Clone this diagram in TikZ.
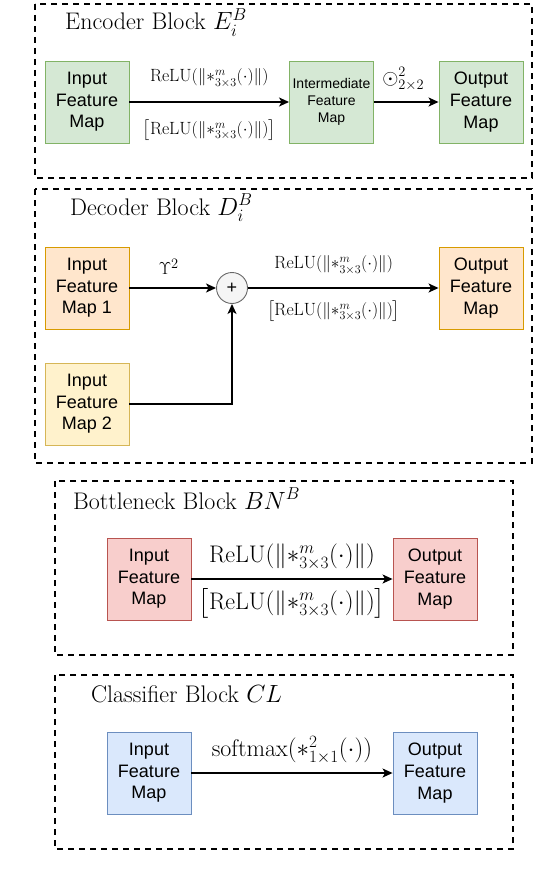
\documentclass[tikz,border=0pt]{standalone}
\usepackage{fontspec}
\usepackage{amsmath}
\usetikzlibrary{arrows.meta}
\newfontfamily\boxfont{Liberation Sans}

\definecolor{encfill}{HTML}{D5E8D4}
\definecolor{encline}{HTML}{82B366}
\definecolor{decfill}{HTML}{FFE6CC}
\definecolor{decline}{HTML}{D79B00}
\definecolor{skipfill}{HTML}{FFF2CC}
\definecolor{skipline}{HTML}{D6B656}
\definecolor{bnfill}{HTML}{F8CECC}
\definecolor{bnline}{HTML}{B85450}
\definecolor{clfill}{HTML}{DAE8FC}
\definecolor{clline}{HTML}{6C8EBF}
\definecolor{sumfill}{HTML}{F5F5F5}
\definecolor{sumline}{HTML}{666666}

\newcommand{\convop}{\mathrm{ReLU}(\|{*}^{m}_{3\times 3}(\cdot)\|)}

\begin{document}
\begin{tikzpicture}[
    x=1pt, y=-1pt,
    fmap/.style={draw, line width=0.9pt, minimum width=84pt, minimum height=82pt,
        align=center, inner sep=1pt, font=\boxfont\fontsize{18}{21.6}\selectfont},
    frame/.style={draw, line width=1.3pt, dash pattern=on 6pt off 5pt},
    title/.style={anchor=base west, inner sep=0pt, font=\fontsize{24}{28}\selectfont},
    small/.style={font=\fontsize{17.7}{21}\selectfont, inner sep=0pt},
    big/.style={font=\fontsize{24}{28}\selectfont, inner sep=0pt},
    flow/.style={line width=1.4pt, -{Stealth[length=10pt, width=9pt, inset=2.5pt]}}
]
\useasboundingbox (0,0) rectangle (540,880);

% encoder block
\draw[frame] (35,4) rectangle (532,178);
\node[title] (enctitle) at (65,30) {Encoder Block $E_i^B$};
\node[fmap, fill=encfill, draw=encline] (encin) at (87,102) {Input\\Feature\\Map};
\node[fmap, fill=encfill, draw=encline, font=\boxfont\fontsize{14}{16.8}\selectfont] (encmid) at (331.5,102) {Intermediate\\Feature\\Map};
\node[fmap, fill=encfill, draw=encline] (encout) at (481,102) {Output\\Feature\\Map};
\draw[flow] (encin) -- node[small, yshift=24pt] {$\convop$}
    node[small, yshift=-28pt] {$\bigl[\convop\bigr]$} (encmid);
\draw[flow] (encmid) -- node[font=\fontsize{22}{26}\selectfont, inner sep=0pt, yshift=23pt, xshift=-3pt] {$\odot^{2}_{2\times 2}$} (encout);

% decoder block
\draw[frame] (35,189) rectangle (532,463);
\node[title] (dectitle) at (70,215) {Decoder Block $D_i^B$};
\node[fmap, fill=decfill, draw=decline] (decin) at (87,288) {Input\\Feature\\Map 1};
\node[fmap, fill=skipfill, draw=skipline] (skipin) at (87,404) {Input\\Feature\\Map 2};
\node[circle, draw=sumline, fill=sumfill, line width=0.9pt, minimum size=31pt, inner sep=0pt,
    font=\boxfont\fontsize{18}{18}\selectfont] (sum) at (232,288) {+};
\node[fmap, fill=decfill, draw=decline] (decout) at (481,288) {Output\\Feature\\Map};
\draw[flow] (decin) -- node[font=\fontsize{19}{23}\selectfont, inner sep=0pt, yshift=21pt, xshift=-4pt] {$\Upsilon^{2}$} (sum);
\draw[flow] (skipin) -| (sum);
\draw[flow] (sum) -- node[small, pos=0.45, yshift=23pt] {$\convop$}
    node[small, pos=0.45, yshift=-23pt] {$\bigl[\convop\bigr]$} (decout);

% bottleneck block
\draw[frame] (55,481) rectangle (513,655);
\node[title] (bntitle) at (73,509) {Bottleneck Block $BN^B$};
\node[fmap, fill=bnfill, draw=bnline] (bnin) at (149,579) {Input\\Feature\\Map};
\node[fmap, fill=bnfill, draw=bnline] (bnout) at (435,579) {Output\\Feature\\Map};
\draw[flow] (bnin) -- node[big, yshift=22pt] {$\convop$}
    node[big, yshift=-24pt] {$\bigl[\convop\bigr]$} (bnout);

% classifier block
\draw[frame] (55,675) rectangle (513,849);
\node[title] (cltitle) at (91,702) {Classifier Block $CL$};
\node[fmap, fill=clfill, draw=clline] (clin) at (149,773) {Input\\Feature\\Map};
\node[fmap, fill=clfill, draw=clline] (clout) at (435,773) {Output\\Feature\\Map};
\draw[flow] (clin) -- node[big, yshift=23pt] {$\mathrm{softmax}({*}^{2}_{1\times 1}(\cdot))$} (clout);
\end{tikzpicture}
\end{document}
